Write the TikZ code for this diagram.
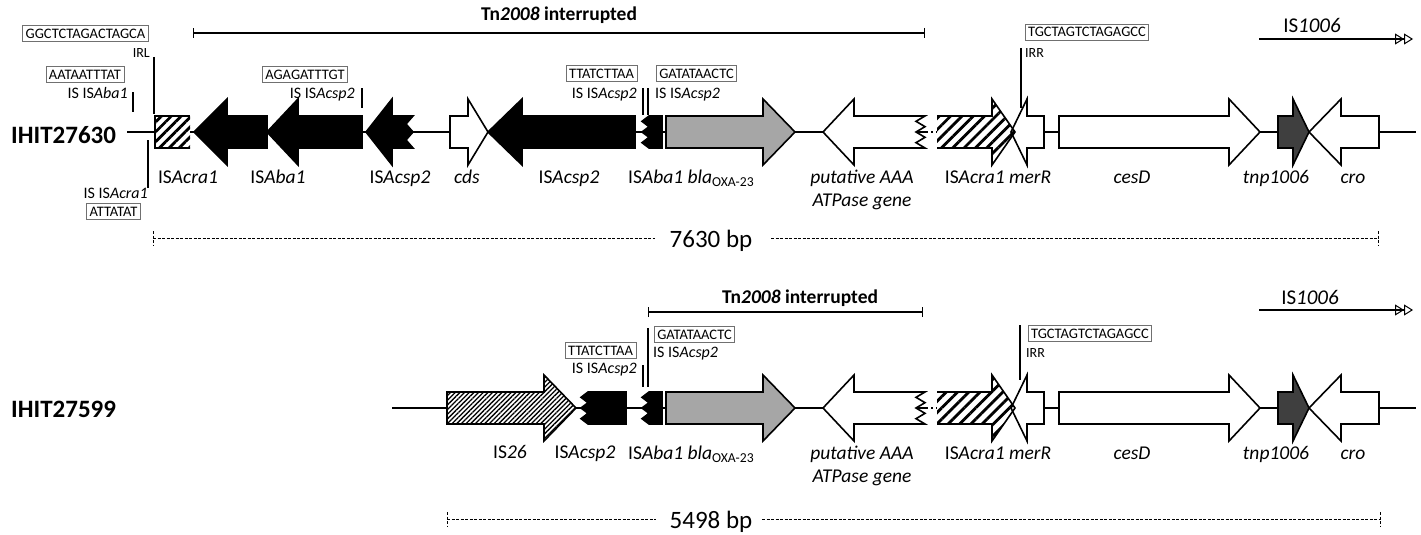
\documentclass[tikz,border=0pt]{standalone}
\usepackage{fontspec}
\setmainfont{Carlito}
\usetikzlibrary{arrows.meta,patterns.meta}
\definecolor{grayarrow}{HTML}{A6A6A6}
\definecolor{darkarrow}{HTML}{3F3F3F}
\definecolor{boxline}{HTML}{707070}
% right-pointing gene: style, left, head base, tip, y
\newcommand{\geneR}[5]{\path[#1] (#2,#5-16) -- (#3,#5-16) -- (#3,#5-33) -- (#4,#5) -- (#3,#5+33) -- (#3,#5+16) -- (#2,#5+16) -- cycle;}
% left-pointing gene: style, tip, head base, right, y
\newcommand{\geneL}[5]{\path[#1] (#4,#5-16) -- (#3,#5-16) -- (#3,#5-33) -- (#2,#5) -- (#3,#5+33) -- (#3,#5+16) -- (#4,#5+16) -- cycle;}
% box with jagged left edge: style, tooth tip x, right x, y
\newcommand{\jagL}[4]{\path[#1] (#3,#4-16) -- (#2+7,#4-16) -- (#2,#4-10.67) -- (#2+7,#4-5.33) -- (#2,#4) -- (#2+7,#4+5.33) -- (#2,#4+10.67) -- (#2+7,#4+16) -- (#3,#4+16) -- cycle;}
\tikzset{
  bb/.style={line width=1.6pt},
  ol/.style={draw=black, line width=1.6pt, line join=miter},
  blk/.style={ol, fill=black},
  wht/.style={ol, fill=white},
  gry/.style={ol, fill=grayarrow},
  drk/.style={ol, fill=darkarrow},
  hatchwide/.style={pattern={Lines[angle=45,distance=8pt,line width=2.8pt]}},
  hatchbox/.style={pattern={Lines[angle=45,distance=7pt,line width=2.8pt]}},
  hatchdense/.style={pattern={Lines[angle=45,distance=3.3pt,line width=1.3pt]}},
  seqbox/.style={draw=boxline, line width=0.9pt, font=\fontsize{14.5}{16}\selectfont, inner xsep=3pt, inner ysep=3pt, text height=10pt, text depth=0pt},
  lbl/.style={font=\fontsize{19.5}{22}\selectfont, anchor=base, inner sep=0pt},
  islbl/.style={font=\fontsize{16}{18}\selectfont, inner sep=0pt},
  irlbl/.style={font=\fontsize{14}{16}\selectfont, inner sep=0pt},
  annline/.style={line width=1.2pt},
  bpline/.style={line width=0.9pt, dash pattern=on 3pt off 1.5pt},
  bptext/.style={font=\fontsize{25}{28}\selectfont, anchor=base, inner sep=0pt},
  rowname/.style={font=\fontsize{25}{28}\selectfont\bfseries, anchor=base west, inner sep=0pt},
  tnlabel/.style={font=\fontsize{19.5}{22}\selectfont\bfseries, anchor=base, inner sep=0pt},
  tnline/.style={line width=1.4pt, {Bar[width=10pt,line width=1.4pt]}-{Bar[width=10pt,line width=1.4pt]}},
  islabel/.style={font=\fontsize{21}{24}\selectfont, anchor=base, inner sep=0pt},
  isarrow/.style={line width=1.3pt, -{Triangle[open,length=9pt,width=11pt,line width=1pt]Triangle[open,length=9pt,width=11pt,line width=1pt]}},
}
% part shared by both rows: #1 = backbone y, #2 = name tag
\newcommand{\commonpart}[2]{%
  \draw[bb] (1010,#1) -- (1416,#1);
  \draw[line width=1.5pt, dash pattern=on 2pt off 3pt] (926,#1) -- (937,#1);
  \jagL{blk}{642}{662}{#1}
  \geneR{gry}{666}{763}{795}{#1}
  \path[wht] (925,#1-16) -- (854,#1-16) -- (854,#1-33) -- (823,#1) -- (854,#1+33) -- (854,#1+16) -- (925,#1+16) -- (916,#1+10.67) -- (925,#1+5.33) -- (916,#1) -- (925,#1-5.33) -- (916,#1-10.67) -- cycle;
  \geneR{fill=white}{937}{992}{1015}{#1}
  \geneL{wht}{1011}{1027}{1044}{#1}
  \geneR{hatchwide}{937}{992}{1015}{#1}
  \draw[ol] (937,#1-16) -- (992,#1-16) -- (992,#1-33) -- (1015,#1) -- (992,#1+33) -- (992,#1+16) -- (937,#1+16);
  \geneR{wht}{1059}{1229}{1260}{#1}
  \geneR{drk}{1278}{1293}{1309}{#1}
  \geneL{wht}{1309}{1341}{1379}{#1}
  \node[lbl, anchor=base west] (bla#2) at (628,#1+51) {IS\textit{Aba1 bla}\textsubscript{OXA-23}};
  \node[lbl] (putA#2) at (862,#1+51) {\textit{putative AAA}};
  \node[lbl] (putB#2) at (862,#1+74) {\textit{ATPase gene}};
  \node[lbl] (mer#2) at (998,#1+51) {IS\textit{Acra1 merR}};
  \node[lbl] (ces#2) at (1132,#1+51) {\textit{cesD}};
  \node[lbl] (tnp#2) at (1276,#1+51) {\textit{tnp1006}};
  \node[lbl] (cro#2) at (1353,#1+51) {\textit{cro}};
}
\begin{document}
\begin{tikzpicture}[x=1pt,y=-1pt]
\useasboundingbox (0,0) rectangle (1421,535);
% ================= top row =================
\node[rowname] (rowA) at (11,143) {IHIT27630};
\draw[bb] (127,132) -- (926,132);
\commonpart{132}{A}
% hatched ISAcra1 remnant
\path[fill=white] (155,116) rectangle (190,148);
\path[hatchbox] (155,116) rectangle (190,148);
\draw[ol] (190,116) -- (155,116) -- (155,148) -- (190,148);
\geneL{blk}{194}{227}{267}{132}
\geneL{blk}{267}{298}{362}{132}
\path[blk] (392,116) -- (392,99) -- (366,132) -- (392,165) -- (392,148) -- (413,148) -- (406,140) -- (413,132) -- (406,124) -- (413,116) -- cycle;
\geneR{wht}{450}{468}{488}{132}
\geneL{blk}{488}{522}{635}{132}
% labels
\node[lbl] (lA1) at (188,183) {IS\textit{Acra1}};
\node[lbl] (lA2) at (278,183) {IS\textit{Aba1}};
\node[lbl] (lA3) at (400,183) {IS\textit{Acsp2}};
\node[lbl] (lA4) at (467,183) {\textit{cds}};
\node[lbl] (lA5) at (569,183) {IS\textit{Acsp2}};
% Tn2008 and IS1006
\node[tnlabel] (tnA) at (559,21) {Tn\textit{2008} interrupted};
\coordinate (tnAl) at (193,33); \coordinate (tnAr) at (925,33);
\draw[tnline] (tnAl) -- (tnAr);
\node[islabel] (isA) at (1312,33) {IS\textit{1006}};
\coordinate (isAl) at (1259,39); \coordinate (isAr) at (1413,39);
\draw[isarrow] (isAl) -- (isAr);
% sequence boxes
\node[seqbox] (sA1) at (85.5,33.5) {GGCTCTAGACTAGCA};
\node[seqbox] (sA2) at (85,74.5) {AATAATTTAT};
\node[seqbox] (sA3) at (113.5,211) {ATTATAT};
\node[seqbox] (sA4) at (305,74.5) {AGAGATTTGT};
\node[seqbox] (sA5) at (601.5,73) {TTATCTTAA};
\node[seqbox] (sA6) at (696.5,73) {GATATAACTC};
\node[seqbox] (sA7) at (1087,32) {TGCTAGTCTAGAGCC};
% annotation texts
\node[irlbl, anchor=base east] (irl) at (150,58) {IRL};
\node[islbl, anchor=base east] (aA1) at (128,98) {IS IS\textit{Aba1}};
\node[islbl, anchor=base east] (aA2) at (148,198) {IS IS\textit{Acra1}};
\node[islbl, anchor=base east] (aA3) at (355,98) {IS IS\textit{Acsp2}};
\node[islbl, anchor=base east] (aA4) at (637,98) {IS IS\textit{Acsp2}};
\node[islbl, anchor=base west] (aA5) at (655,98) {IS IS\textit{Acsp2}};
\node[irlbl, anchor=base west] (irrA) at (1025,58) {IRR};
% annotation lines
\draw[annline] (154,57) -- (154,114);
\draw[annline] (133,92) -- (133,112);
\draw[annline] (148,140) -- (148,188);
\draw[annline] (362,88) -- (362,108);
\draw[annline] (643,88) -- (643,115);
\draw[annline] (648,88) -- (648,115);
\draw[annline] (1021,48) -- (1021,108);
% scale
\draw[bpline] (153,238) -- (655,238);
\draw[bpline] (771,238) -- (1378,238);
\draw[bpline] (153,231) -- (153,246);
\draw[bpline] (1378,231) -- (1378,246);
\node[bptext] (bpA) at (711,247) {7630 bp};
% ================= bottom row =================
\node[rowname] (rowB) at (11,417) {IHIT27599};
\draw[bb] (392,408) -- (926,408);
\commonpart{408}{B}
\geneR{fill=white}{447}{544}{576}{408}
\geneR{hatchdense}{447}{544}{576}{408}
\geneR{ol}{447}{544}{576}{408}
\jagL{blk}{581}{626}{408}
\node[lbl] (lB1) at (510,458) {IS\textit{26}};
\node[lbl] (lB2) at (585,458) {IS\textit{Acsp2}};
\node[tnlabel] (tnB) at (800,303) {Tn\textit{2008} interrupted};
\coordinate (tnBl) at (648,312); \coordinate (tnBr) at (923,312);
\draw[tnline] (tnBl) -- (tnBr);
\node[islabel] (isB) at (1310,304) {IS\textit{1006}};
\coordinate (isBl) at (1259,310); \coordinate (isBr) at (1413,310);
\draw[isarrow] (isBl) -- (isBr);
\node[seqbox] (sB1) at (600.5,350) {TTATCTTAA};
\node[seqbox] (sB2) at (694.5,334.5) {GATATAACTC};
\node[seqbox] (sB3) at (1090,333.5) {TGCTAGTCTAGAGCC};
\node[islbl, anchor=base east] (aB1) at (637,373) {IS IS\textit{Acsp2}};
\node[islbl, anchor=base west] (aB2) at (653,357) {IS IS\textit{Acsp2}};
\node[irlbl, anchor=base west] (irrB) at (1026,357) {IRR};
\draw[annline] (643,365) -- (643,387);
\draw[annline] (648,328) -- (648,387);
\draw[annline] (1020,325) -- (1020,380);
\draw[bpline] (447,519) -- (656,519);
\draw[bpline] (762,519) -- (1380,519);
\draw[bpline] (447,512) -- (447,527);
\draw[bpline] (1380,512) -- (1380,527);
\node[bptext] (bpB) at (711,528) {5498 bp};
\end{tikzpicture}
\end{document}
